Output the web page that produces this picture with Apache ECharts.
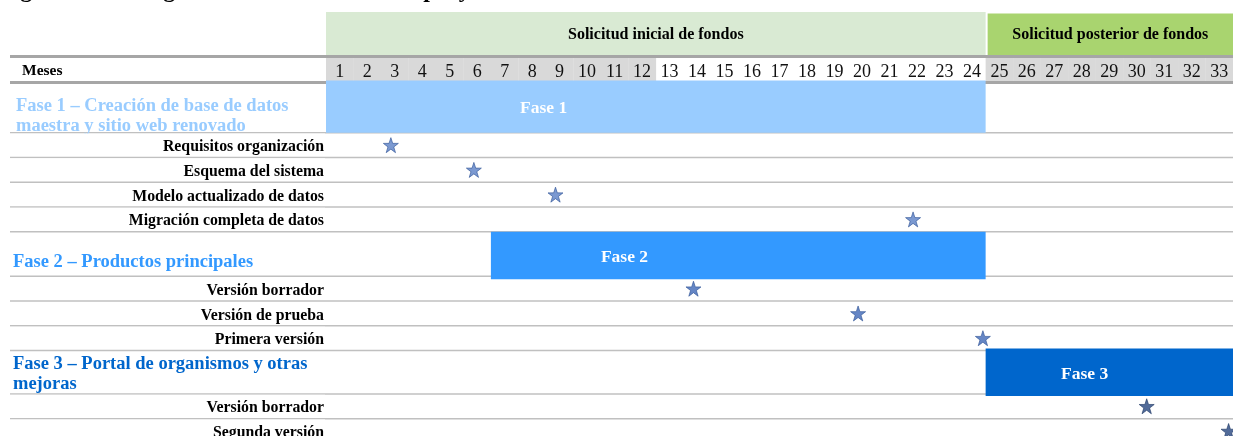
<!DOCTYPE html>
<html>
<head>
<meta charset="utf-8">
<script src="https://cdn.jsdelivr.net/npm/echarts@6/dist/echarts.min.js"></script>
<style>html,body{margin:0;padding:0;background:#fff;overflow:hidden}#c{width:1233px;height:436px}</style>
</head>
<body>
<div id="c"></div>
<script>
// ---------------- DATA ----------------
const titleText = 'Figura 1. Cronograma de actividades del proyecto';
const monthHeader = 'Meses';
const months = [1,2,3,4,5,6,7,8,9,10,11,12,13,14,15,16,17,18,19,20,21,22,23,24,25,26,27,28,29,30,31,32,33];
const fundingLabels = ['Solicitud inicial de fondos', 'Solicitud posterior de fondos'];
const fundingFirstMonth = [1, 25];
const fundingLastMonth = [24, 33];
const phaseBarLabels = ['Fase 1', 'Fase 2', 'Fase 3'];
const phaseTitles = [
  'Fase 1 – Creación de base de datos\nmaestra y sitio web renovado',
  'Fase 2 – Productos principales',
  'Fase 3 – Portal de organismos y otras\nmejoras'
];
const phaseFirstMonth = [1, 7, 25];
const phaseLastMonth = [24, 24, 33];
const milestoneNames = [
  'Requisitos organización', 'Esquema del sistema', 'Modelo actualizado de datos', 'Migración completa de datos',
  'Versión borrador', 'Versión de prueba', 'Primera versión',
  'Versión borrador', 'Segunda versión'
];
const milestonePhase = [0, 0, 0, 0, 1, 1, 1, 2, 2];
const milestoneMonth = [2.86, 5.88, 8.85, 21.86, 13.87, 19.86, 24.4, 30.36, 33.34];

// ---------------- STYLE / LAYOUT ----------------
const FONT = '"Liberation Serif","Times New Roman",serif';
const UNIT = 24.75;          // px per row unit
const GRID_TOP = 12, GRID_H = 424;
const Y_MAX = GRID_H / UNIT;
const BAND_H = 1.76, MONTHS_H = 1.07, PHASE_H = [2.05, 1.8, 1.75], MS_H = 1;
const fundColors = ['#d9ead3', '#a9d46f'];
const phaseColors = ['#99ccff', '#3399ff', '#0066cc'];
const starFill = ['#5a7fc6', '#3e68b6', '#27467f'];
const starStroke = ['#2f5496', '#2f5496', '#1f3864'];
const titleX = [16, 13, 13];
const titleDy = [8.5, 7.8, 1.5];
const barPad = [[1.5, 0], [0, 3], [2, 2]];
const labelAt = [8.42, 11.36, 28.1];
const LEFT_EDGE = 10, RIGHT_EDGE = 1233, LABEL_RIGHT = 324;
const THIN = '#c0c0c0', THICK = '#a6a6a6';
const STAR = 'path://M50,0 L61.8,35.3 L98.9,35.5 L69,57.6 L80.3,93 L50,71.3 L19.7,93 L31,57.6 L1.1,35.5 L38.2,35.3 Z';

// build row layout
const rows = [];
let yc = 0;
fundingLabels.forEach((t, i) => rows.push({kind: 'band', i: i, y0: 0, y1: BAND_H}));
yc = BAND_H;
rows.push({kind: 'months', y0: yc, y1: yc + MONTHS_H}); yc += MONTHS_H;
const msCenter = [];
phaseTitles.forEach((t, p) => {
  rows.push({kind: 'phase', i: p, y0: yc, y1: yc + PHASE_H[p]}); yc += PHASE_H[p];
  milestoneNames.forEach((n, m) => {
    if (milestonePhase[m] === p) {
      rows.push({kind: 'ms', i: m, y0: yc, y1: yc + MS_H});
      msCenter[m] = yc + MS_H / 2;
      yc += MS_H;
    }
  });
});

function hline(y, color, w) {
  return {type: 'line', shape: {x1: LEFT_EDGE, y1: y, x2: RIGHT_EDGE, y2: y}, style: {stroke: color, lineWidth: w}};
}

function renderItem(params, api) {
  const r = rows[params.dataIndex];
  const ch = [];
  if (r.kind === 'band') {
    const a = api.coord([fundingFirstMonth[r.i] - 0.5, r.y0]);
    const b = api.coord([fundingLastMonth[r.i] + 0.5, r.y1]);
    const ins = r.i > 0 ? 2 : 0;
    ch.push({type: 'rect', shape: {x: a[0] + ins, y: a[1] + ins * 0.75, width: b[0] - a[0] - ins, height: b[1] - a[1] - ins * 0.75}, style: {fill: fundColors[r.i]}});
    ch.push({type: 'text', style: {text: fundingLabels[r.i], x: (a[0] + b[0]) / 2 + ins / 2, y: (a[1] + b[1]) / 2 + 1, align: 'center', verticalAlign: 'middle', font: 'bold 16px ' + FONT, fill: '#000'}});
  } else if (r.kind === 'months') {
    const top = api.coord([0.5, r.y0])[1], bot = api.coord([0.5, r.y1])[1];
    months.forEach(m => {
      const a = api.coord([m - 0.5, r.y0]);
      const b = api.coord([m + 0.5, r.y1]);
      const shaded = m <= 12 || m > 24;
      if (shaded) ch.push({type: 'rect', shape: {x: a[0], y: top, width: b[0] - a[0] + 0.3, height: bot - top}, style: {fill: '#d9d9d9'}});
      ch.push({type: 'text', style: {text: String(m), x: (a[0] + b[0]) / 2, y: (top + bot) / 2 + 3, align: 'center', verticalAlign: 'middle', font: '18px ' + FONT, fill: '#111'}});
    });
    ch.push({type: 'text', style: {text: monthHeader, x: 22, y: (top + bot) / 2 + 2, align: 'left', verticalAlign: 'middle', font: 'bold 15.5px ' + FONT, fill: '#000'}});
    ch.push(hline(top + 1, THICK, 3));
    ch.push(hline(bot + 0.5, THICK, 3));
  } else if (r.kind === 'phase') {
    const p = r.i;
    const top = api.coord([0.5, r.y0])[1], bot = api.coord([0.5, r.y1])[1];
    ch.push(hline(bot, THIN, 1.5));
    const a = api.coord([phaseFirstMonth[p] - 0.5, r.y0]);
    const b = api.coord([phaseLastMonth[p] + 0.5, r.y1]);
    const y0 = a[1] - barPad[p][0], y1 = b[1] + barPad[p][1];
    ch.push({type: 'rect', shape: {x: a[0], y: y0, width: b[0] - a[0], height: y1 - y0}, style: {fill: phaseColors[p]}});
    const lx = api.coord([labelAt[p], r.y0])[0];
    ch.push({type: 'text', style: {text: phaseBarLabels[p], x: lx, y: (y0 + y1) / 2 + 2.2, align: 'center', verticalAlign: 'middle', font: 'bold 17.5px ' + FONT, fill: '#ffffff'}});
    ch.push({type: 'text', style: {text: phaseTitles[p], x: titleX[p], y: (top + bot) / 2 + titleDy[p], align: 'left', verticalAlign: 'middle', font: 'bold 18.5px ' + FONT, lineHeight: 20, fill: phaseColors[p]}});
  } else if (r.kind === 'ms') {
    const top = api.coord([0.5, r.y0])[1], bot = api.coord([0.5, r.y1])[1];
    ch.push({type: 'rect', shape: {x: 0, y: top + 0.8, width: LABEL_RIGHT + 1, height: bot - top - 0.8}, style: {fill: '#ffffff'}});
    ch.push({type: 'text', style: {text: milestoneNames[r.i], x: LABEL_RIGHT, y: (top + bot) / 2 + 2, align: 'right', verticalAlign: 'middle', font: 'bold 15.8px ' + FONT, fill: '#000'}});
    ch.push(hline(bot, THIN, 1.5));
  }
  return {type: 'group', children: ch};
}

const chart = echarts.init(document.getElementById('c'), null, {renderer: 'canvas'});
chart.setOption({
  animation: false,
  backgroundColor: '#ffffff',
  graphic: [{
    type: 'text', x: -1, y: -9.3,
    style: {text: titleText, font: 'bold 24px ' + FONT, fill: '#000', verticalAlign: 'middle', align: 'left'}
  }],
  grid: {left: 326, top: GRID_TOP, width: 33 * 27.53, height: GRID_H},
  xAxis: {type: 'value', min: 0.5, max: 33.5, show: false},
  yAxis: {type: 'value', min: 0, max: Y_MAX, inverse: true, show: false},
  series: [
    {
      type: 'custom', z: 1, clip: false,
      renderItem: renderItem,
      data: rows.map((r, k) => [k]),
      encode: {x: -1, y: -1},
      silent: true
    },
    {
      type: 'scatter', z: 5, clip: false,
      symbol: STAR, symbolSize: 15,
      data: milestoneMonth.map((m, i) => ({
        value: [m, msCenter[i]],
        itemStyle: {color: starFill[milestonePhase[i]], borderColor: starStroke[milestonePhase[i]], borderWidth: 0.8}
      })),
      silent: true
    }
  ]
});
</script>
</body>
</html>
